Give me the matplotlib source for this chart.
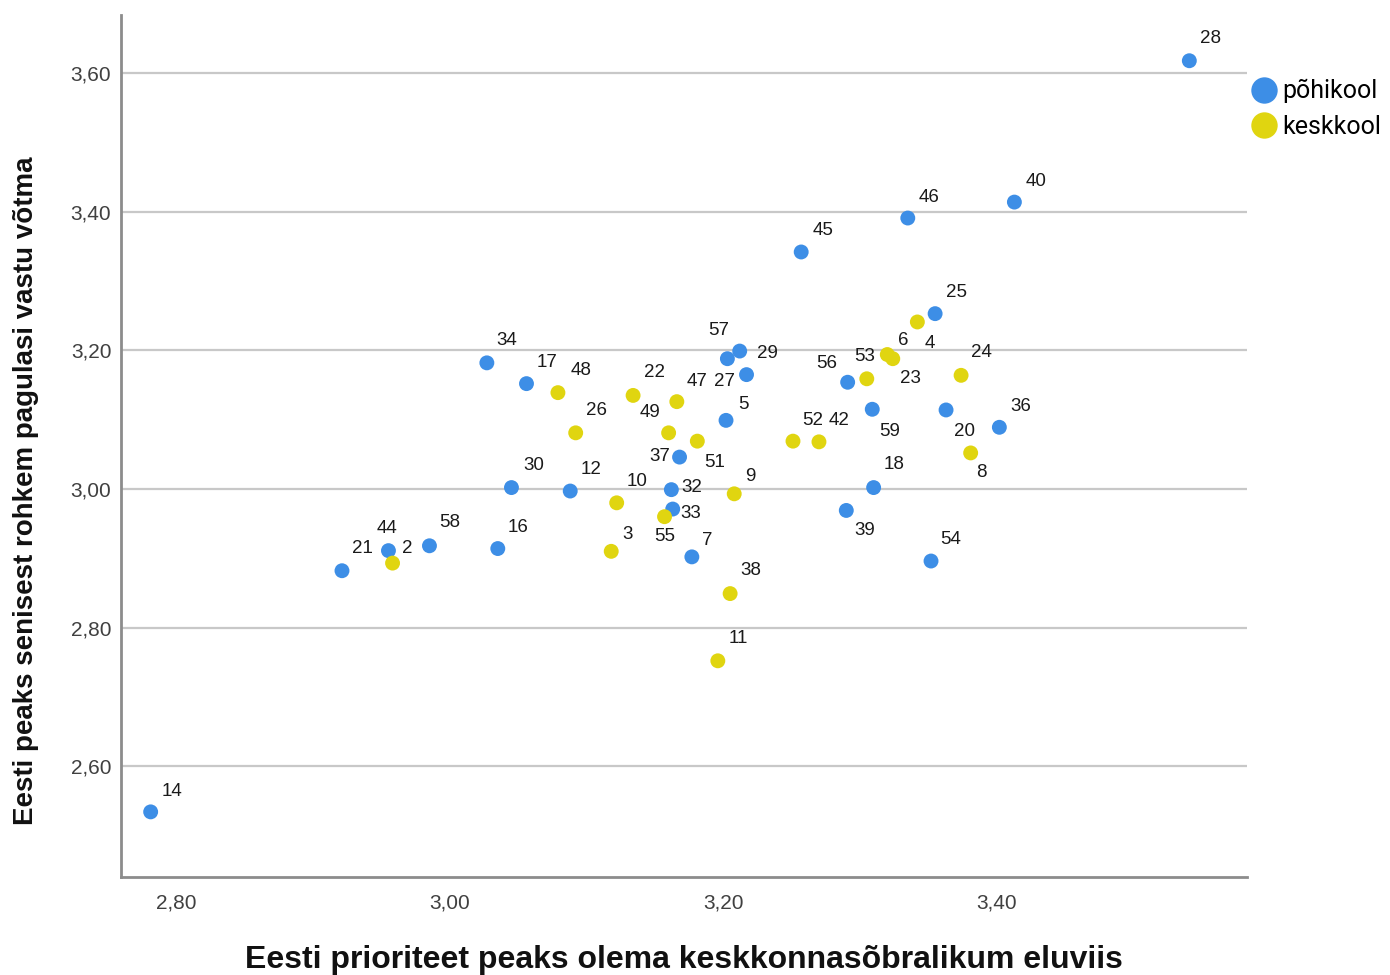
import matplotlib
matplotlib.use("Agg")
import matplotlib.pyplot as plt
from matplotlib.lines import Line2D

# ---- data ----
pohi_ids = [28, 40, 46, 45, 25, 34, 17, 57, 29, 27, 5, 37, 32, 33, 7, 56, 59, 18, 39, 54,
            20, 36, 30, 12, 16, 58, 44, 21, 14]
pohi_x = [3.541, 3.413, 3.335, 3.257, 3.355, 3.027, 3.056, 3.203, 3.212, 3.217, 3.202, 3.168,
          3.162, 3.163, 3.177, 3.291, 3.309, 3.310, 3.290, 3.352, 3.363, 3.402, 3.045, 3.088,
          3.035, 2.985, 2.955, 2.921, 2.781]
pohi_y = [3.618, 3.414, 3.391, 3.342, 3.253, 3.182, 3.152, 3.188, 3.199, 3.165, 3.099, 3.046,
          2.999, 2.971, 2.902, 3.154, 3.115, 3.002, 2.969, 2.896, 3.114, 3.089, 3.002, 2.997,
          2.914, 2.918, 2.911, 2.882, 2.534]

kesk_ids = [48, 26, 10, 3, 2, 22, 47, 49, 51, 9, 55, 38, 11, 52, 42, 53, 6, 4, 23, 24, 8]
kesk_x = [3.079, 3.092, 3.122, 3.118, 2.958, 3.134, 3.166, 3.160, 3.181, 3.208, 3.157, 3.205,
          3.196, 3.251, 3.270, 3.305, 3.320, 3.342, 3.324, 3.374, 3.381]
kesk_y = [3.139, 3.081, 2.980, 2.910, 2.893, 3.135, 3.126, 3.081, 3.069, 2.993, 2.960, 2.849,
          2.752, 3.069, 3.068, 3.159, 3.194, 3.241, 3.188, 3.164, 3.052]

series_names = ["põhikool", "keskkool"]
x_ticks = [2.80, 3.00, 3.20, 3.40]
y_ticks = [2.60, 2.80, 3.00, 3.20, 3.40, 3.60]
x_title = "Eesti prioriteet peaks olema keskkonnasõbralikum eluviis"
y_title = "Eesti peaks senisest rohkem pagulasi vastu võtma"

# label offsets in pixels (dx right, dy down)
label_off = {
    28: (21, -22), 40: (22, -21), 46: (21, -21), 45: (22, -21), 25: (21, -21), 34: (20, -22),
    17: (21, -21), 57: (-9, -28), 29: (28, 2), 27: (-22, 7), 5: (17, -16), 37: (-20, -1),
    32: (20, -2), 33: (18, 4), 7: (15, -16), 56: (-21, -19), 59: (17, 22), 18: (20, -23),
    39: (18, 20), 54: (20, -22), 20: (18, 22), 36: (21, -21), 30: (22, -22), 12: (21, -22),
    16: (20, -21), 58: (20, -23), 44: (-1, -22), 21: (20, -22), 14: (21, -20),
    48: (23, -22), 26: (21, -22), 10: (20, -21), 3: (16, -17), 2: (15, -15), 22: (21, -23),
    47: (20, -20), 49: (-19, -20), 51: (17, 21), 9: (16, -17), 55: (0, 20), 38: (21, -23),
    11: (20, -22), 52: (20, -21), 42: (20, -21), 53: (-2, -22), 6: (16, -14), 4: (12, 22),
    23: (18, 20), 24: (20, -23), 8: (11, 20),
}

BLUE = "#3d8ee6"
YELLOW = "#e0d510"

W, H = 1390, 975
fig = plt.figure(figsize=(W / 100, H / 100), dpi=100)
ax = fig.add_axes([121 / W, 1 - 877 / H, (1247 - 121) / W, (877 - 15) / H])

ax.set_xlim(2.7593, 3.5832)
ax.set_ylim(2.440, 3.684)

for v in y_ticks:
    ax.axhline(v, color="#c8c8c8", lw=1.6, zorder=1)

ax.scatter(pohi_x, pohi_y, s=115, color=BLUE, edgecolors="none", zorder=3)
ax.scatter(kesk_x, kesk_y, s=115, color=YELLOW, edgecolors="none", zorder=3)

lab_font = dict(fontsize=13.5, family="Liberation Sans", color="#1a1a1a", ha="center", va="center")
for ids, xs, ys in ((pohi_ids, pohi_x, pohi_y), (kesk_ids, kesk_x, kesk_y)):
    for i, xv, yv in zip(ids, xs, ys):
        dx, dy = label_off[i]
        ax.annotate(str(i), (xv, yv), xytext=(dx * 0.72, -dy * 0.72), textcoords="offset points",
                    zorder=4, **lab_font)

for s in ("top", "right"):
    ax.spines[s].set_visible(False)
for s in ("left", "bottom"):
    ax.spines[s].set_color("#8c8c8c")
    ax.spines[s].set_linewidth(2)

ax.set_xticks(x_ticks)
ax.set_yticks(y_ticks)
ax.set_xticklabels([f"{v:.2f}".replace(".", ",") for v in x_ticks])
ax.set_yticklabels([f"{v:.2f}".replace(".", ",") for v in y_ticks])
ax.tick_params(length=0, labelsize=15, labelcolor="#404040")
ax.tick_params(axis="x", pad=12)
ax.tick_params(axis="y", pad=7)
for t in ax.get_xticklabels() + ax.get_yticklabels():
    t.set_family("Liberation Sans")

fig.text(684 / W, 1 - 960 / H, x_title, ha="center", va="center", fontsize=23,
         fontweight="bold", family="Liberation Sans", color="#111111")
fig.text(26 / W, 1 - 491 / H, y_title, ha="center", va="center", rotation=90, fontsize=20,
         fontweight="bold", family="Liberation Sans", color="#111111")

handles = [Line2D([], [], ls="none", marker="o", ms=19, color=BLUE, mec="none"),
           Line2D([], [], ls="none", marker="o", ms=19, color=YELLOW, mec="none")]
fig.legend(handles, series_names, loc="center left", bbox_to_anchor=(1255 / W, 1 - 109 / H),
           frameon=False, prop=dict(family="Roboto", size=18), handlelength=0.75,
           handletextpad=0.35, labelspacing=0.45, borderaxespad=0, borderpad=0)

fig.savefig("out.png", dpi=100)
